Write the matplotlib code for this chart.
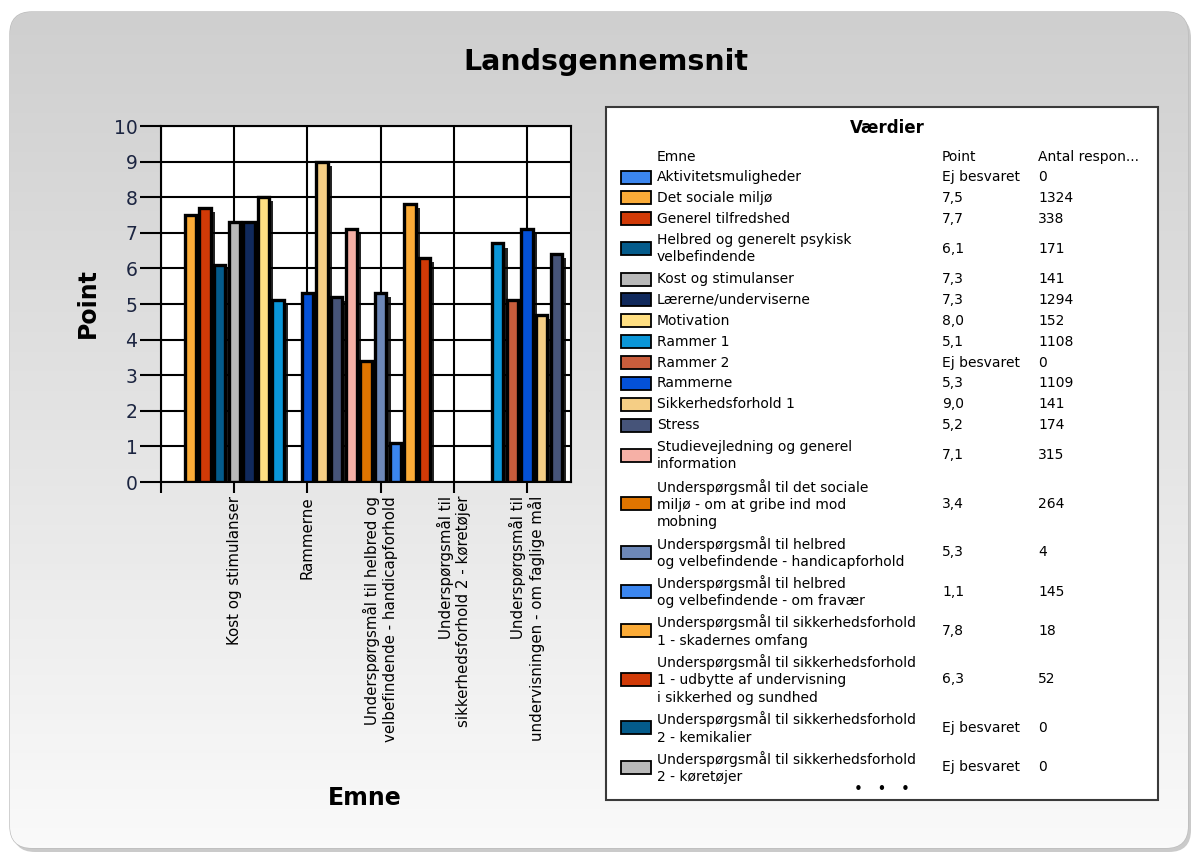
import numpy as np
import matplotlib
matplotlib.use('Agg')
import matplotlib.pyplot as plt
import matplotlib.patheffects as pe
from matplotlib.patches import FancyBboxPatch, Rectangle
from matplotlib.colors import LinearSegmentedColormap

# data (alphabetical, like the source chart) -- None = "Ej besvaret"
emner = [
    'Aktivitetsmuligheder',
    'Det sociale miljø',
    'Generel tilfredshed',
    'Helbred og generelt psykisk velbefindende',
    'Kost og stimulanser',
    'Lærerne/underviserne',
    'Motivation',
    'Rammer 1',
    'Rammer 2',
    'Rammerne',
    'Sikkerhedsforhold 1',
    'Stress',
    'Studievejledning og generel information',
    'Underspørgsmål til det sociale miljø - om at gribe ind mod mobning',
    'Underspørgsmål til helbred og velbefindende - handicapforhold',
    'Underspørgsmål til helbred og velbefindende - om fravær',
    'Underspørgsmål til sikkerhedsforhold 1 - skadernes omfang',
    'Underspørgsmål til sikkerhedsforhold 1 - udbytte af undervisning i sikkerhed og sundhed',
    'Underspørgsmål til sikkerhedsforhold 2 - kemikalier',
    'Underspørgsmål til sikkerhedsforhold 2 - køretøjer',
    'Underspørgsmål til sikkerhedsforhold 2 - (skjult 1)',
    'Underspørgsmål til sikkerhedsforhold 2 - (skjult 2)',
    'Underspørgsmål til undervisningen - (skjult 3)',
    'Underspørgsmål til undervisningen - (skjult 4)',
    'Underspørgsmål til undervisningen - om faglige mål',
    'Underspørgsmål til undervisningen - (skjult 5)',
    'Underspørgsmål til undervisningen - (skjult 6)',
]
point = [None, 7.5, 7.7, 6.1, 7.3, 7.3, 8.0, 5.1, None, 5.3, 9.0, 5.2, 7.1, 3.4,
         5.3, 1.1, 7.8, 6.3, None, None, None, None, 6.7, 5.1, 7.1, 4.7, 6.4]
antal = [0, 1324, 338, 171, 141, 1294, 152, 1108, 0, 1109, 141, 174, 315, 264,
         4, 145, 18, 52, 0, 0]

# labels as they are wrapped in the legend table (first 20 rows shown)
legend_labels = [
    'Aktivitetsmuligheder',
    'Det sociale miljø',
    'Generel tilfredshed',
    'Helbred og generelt psykisk\nvelbefindende',
    'Kost og stimulanser',
    'Lærerne/underviserne',
    'Motivation',
    'Rammer 1',
    'Rammer 2',
    'Rammerne',
    'Sikkerhedsforhold 1',
    'Stress',
    'Studievejledning og generel\ninformation',
    'Underspørgsmål til det sociale\nmiljø - om at gribe ind mod\nmobning',
    'Underspørgsmål til helbred\nog velbefindende - handicapforhold',
    'Underspørgsmål til helbred\nog velbefindende - om fravær',
    'Underspørgsmål til sikkerhedsforhold\n1 - skadernes omfang',
    'Underspørgsmål til sikkerhedsforhold\n1 - udbytte af undervisning\ni sikkerhed og sundhed',
    'Underspørgsmål til sikkerhedsforhold\n2 - kemikalier',
    'Underspørgsmål til sikkerhedsforhold\n2 - køretøjer',
]

# x tick labels (every 5th category)
tick_idx = [-1, 4, 9, 14, 19, 24]
tick_labels = ['',
               'Kost og stimulanser',
               'Rammerne',
               'Underspørgsmål til helbred og\nvelbefindende - handicapforhold',
               'Underspørgsmål til\nsikkerhedsforhold 2 - køretøjer',
               'Underspørgsmål til\nundervisningen - om faglige mål']

palette = ['#3b86ef', '#fbab37', '#d13a07', '#045b8b', '#b9b9b9',
           '#10295c', '#ffdf82', '#0a96d8', '#c95d3c', '#0451d8',
           '#f5ce85', '#465479', '#f6b0a6', '#e07500', '#6d88b8']
colors = [palette[i % len(palette)] for i in range(len(emner))]

W, H = 1197, 857
fig = plt.figure(figsize=(W / 100, H / 100), dpi=100)
fig.patch.set_facecolor('white')

# background panel + legend table in pixel coordinates
bg = fig.add_axes([0, 0, 1, 1], zorder=0)
bg.set_xlim(0, W)
bg.set_ylim(H, 0)
bg.axis('off')

shadow = FancyBboxPatch((13, 16), 1178, 836, boxstyle='round,pad=0,rounding_size=22',
                        fc='#a8a8a8', ec='none', alpha=0.6)
bg.add_patch(shadow)
panel = FancyBboxPatch((10, 12), 1178, 836, boxstyle='round,pad=0,rounding_size=22',
                       fc='none', ec='#bdbdbd', lw=1)
bg.add_patch(panel)
grad = np.linspace(0, 1, 256).reshape(-1, 1)
cmap = LinearSegmentedColormap.from_list('panel', ['#cfcfcf', '#e4e4e4', '#fafafa'])
im = bg.imshow(grad, cmap=cmap, extent=(10, 1188, 848, 12), aspect='auto', zorder=1)
im.set_clip_path(panel)

bg.add_patch(Rectangle((606, 107), 552, 693, fc='white', ec='#3a3a3a', lw=1.5, zorder=2))
bg.text(887, 128, 'Værdier', ha='center', va='center', fontsize=12, weight='bold', zorder=3)
fs = 10
bg.text(657, 157, 'Emne', ha='left', va='center', fontsize=fs, zorder=3)
bg.text(942, 157, 'Point', ha='left', va='center', fontsize=fs, zorder=3)
bg.text(1038, 157, 'Antal respon...', ha='left', va='center', fontsize=fs, zorder=3)

base_h, extra_h = 20.9, 18.4
top = 177 - base_h / 2
for i, lab in enumerate(legend_labels):
    n = lab.count('\n') + 1
    h = base_h + extra_h * (n - 1)
    yc = top + h / 2
    top += h
    bg.add_patch(Rectangle((621, yc - 6.5), 30, 13, fc=colors[i], ec='black', lw=1.3, zorder=3))
    bg.text(657, yc, lab, ha='left', va='center', fontsize=fs, linespacing=1.28, zorder=3)
    p = 'Ej besvaret' if point[i] is None else f'{point[i]:.1f}'.replace('.', ',')
    bg.text(942, yc, p, ha='left', va='center', fontsize=fs, zorder=3)
    bg.text(1038, yc, str(antal[i]), ha='left', va='center', fontsize=fs, zorder=3)
bg.text(882, 789, '•   •   •', ha='center', va='center', fontsize=11, zorder=3)

# bar chart
ax = fig.add_axes([161 / W, 1 - 482 / H, 410 / W, 356 / H], zorder=2)
ax.set_facecolor('white')
x = np.arange(len(emner))
heights = np.array([np.nan if v is None else v for v in point])
ok = ~np.isnan(heights)
ax.bar(x[ok], heights[ok], width=0.78, color=[c for c, k in zip(colors, ok) if k],
       edgecolor='black', linewidth=2.4, zorder=3,
       path_effects=[pe.SimplePatchShadow(offset=(3, -3), shadow_rgbFace='black', alpha=0.85),
                     pe.Normal()])

ax.set_xlim(-1, len(emner))
ax.set_ylim(0, 10)
ax.set_yticks(range(11))
ax.set_xticks(tick_idx)
ax.set_xticklabels(tick_labels, rotation=90, fontsize=10.8, va='top', ha='center',
                   multialignment='right')
ax.grid(True, color='black', linewidth=1.5, zorder=0)
ax.set_axisbelow(True)
for s in ax.spines.values():
    s.set_color('black')
    s.set_linewidth(1.5)
ax.tick_params(axis='y', direction='out', length=15, width=1.5, labelsize=13.5,
               labelcolor='#1c2541', pad=2)
ax.tick_params(axis='x', direction='out', length=8, width=1.5, pad=2)

fig.text(606 / W, 1 - 62 / H, 'Landsgennemsnit', ha='center', va='center',
         fontsize=20.5, weight='bold')
fig.text(88 / W, 1 - 303 / H, 'Point', ha='center', va='center', rotation=90,
         fontsize=17, weight='bold')
fig.text(365 / W, 1 - 798 / H, 'Emne', ha='center', va='center',
         fontsize=17, weight='bold')

fig.savefig('out.png', dpi=100)
